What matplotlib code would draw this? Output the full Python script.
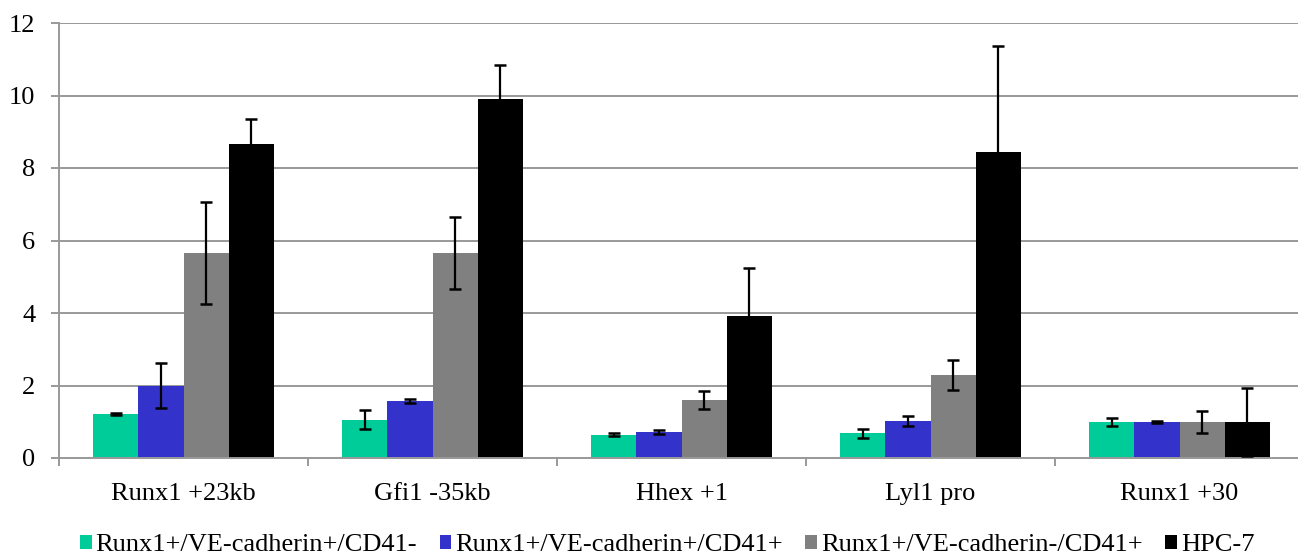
import matplotlib.pyplot as plt
import numpy as np

plt.rcParams['font.family'] = 'serif'
plt.rcParams['font.serif'] = ['Liberation Serif', 'DejaVu Serif']

# data
categories = ["Runx1 +23kb", "Gfi1 -35kb", "Hhex +1", "Lyl1 pro", "Runx1 +30"]
series = ["Runx1+/VE-cadherin+/CD41-", "Runx1+/VE-cadherin+/CD41+",
          "Runx1+/VE-cadherin-/CD41+", "HPC-7"]
colors = ["#00CC99", "#3333CC", "#808080", "#000000"]

teal = [1.22, 1.06, 0.64, 0.68, 0.99]
blue = [2.00, 1.57, 0.72, 1.02, 0.99]
gray = [5.66, 5.66, 1.60, 2.29, 0.99]
black = [8.66, 9.89, 3.93, 8.45, 0.99]

teal_err = [0.03, 0.27, 0.04, 0.12, 0.11]
blue_err = [0.61, 0.05, 0.05, 0.15, 0.02]
gray_err = [1.41, 0.99, 0.24, 0.42, 0.31]
black_err = [0.68, 0.95, 1.32, 2.92, 0.93]

values = [teal, blue, gray, black]
errors = [teal_err, blue_err, gray_err, black_err]

W, H = 1298, 558
fig = plt.figure(figsize=(W / 100, H / 100), dpi=100)
ax = fig.add_axes([59 / W, 100 / H, (1304 - 59) / W, (458 - 23) / H])

x = np.arange(len(categories))
bw = 0.181
for i in range(4):
    pos = x + (i - 1.5) * bw
    ax.bar(pos, values[i], width=bw, color=colors[i], label=series[i], zorder=2)
    ax.errorbar(pos, values[i], yerr=errors[i], fmt='none', ecolor='black',
                elinewidth=1.6, capsize=4.5, capthick=1.8, zorder=3)

ax.set_xlim(-0.5, 4.5)
ax.set_ylim(0, 12)
ax.set_yticks(range(0, 13, 2))
ax.yaxis.grid(True, color='#999999', linewidth=1.4, zorder=0)
ax.set_axisbelow(True)

for s in ['top', 'right']:
    ax.spines[s].set_visible(False)
for s in ['left', 'bottom']:
    ax.spines[s].set_color('#999999')
    ax.spines[s].set_linewidth(1.4)

ax.set_xticks(x)
ax.set_xticklabels(categories, fontsize=19)
ax.tick_params(axis='x', length=0, pad=18)
ax.set_xticks(np.arange(-0.5, 5, 1), minor=True)
ax.tick_params(axis='x', which='minor', length=6, color='#999999', width=1.4)
ax.tick_params(axis='y', labelsize=19, length=6, color='#999999', width=1.4, pad=11)

fig.legend(loc='center', bbox_to_anchor=(0.514, 1 - 545 / H), ncol=4, frameon=False,
           fontsize=19, handlelength=0.45, handleheight=0.45, handletextpad=0.15,
           columnspacing=0.85, borderaxespad=0)

fig.savefig('out.png', dpi=100)
